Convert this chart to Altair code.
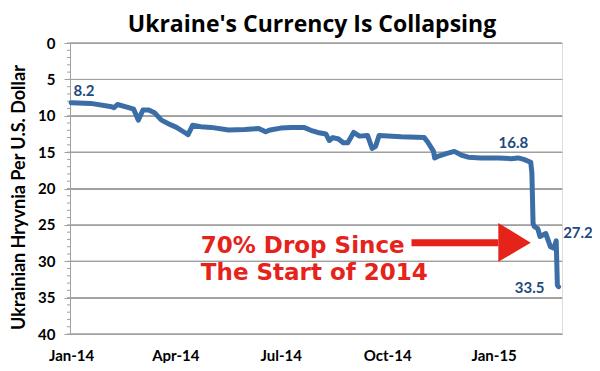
import altair as alt
import pandas as pd

# ---- data ----
dates = [
    "2014-01-01", "2014-01-18", "2014-02-05", "2014-02-07", "2014-02-10", "2014-02-19",
    "2014-02-24", "2014-02-28", "2014-03-04", "2014-03-09", "2014-03-14", "2014-03-20",
    "2014-03-26", "2014-04-02", "2014-04-08", "2014-04-12", "2014-04-16", "2014-04-23",
    "2014-05-02", "2014-05-17", "2014-05-31", "2014-06-12", "2014-06-18", "2014-06-22",
    "2014-07-01", "2014-07-10", "2014-07-21", "2014-07-27", "2014-08-02", "2014-08-09",
    "2014-08-12", "2014-08-15", "2014-08-20", "2014-08-24", "2014-08-28", "2014-09-02",
    "2014-09-07", "2014-09-14", "2014-09-18", "2014-09-21", "2014-09-24", "2014-10-13",
    "2014-11-02", "2014-11-05", "2014-11-10", "2014-11-11", "2014-11-15", "2014-11-21",
    "2014-11-28", "2014-12-04", "2014-12-10", "2014-12-21", "2015-01-05", "2015-01-16",
    "2015-01-22", "2015-01-27", "2015-02-02", "2015-02-03", "2015-02-04", "2015-02-05",
    "2015-02-08", "2015-02-10", "2015-02-15", "2015-02-17", "2015-02-19", "2015-02-22",
    "2015-02-23", "2015-02-24", "2015-02-25", "2015-02-26",
]
rates = [
    8.2, 8.3, 8.75, 8.9, 8.45, 8.85,
    9.1, 10.6, 9.2, 9.2, 9.6, 10.6,
    11.1, 11.6, 12.2, 12.6, 11.3, 11.5,
    11.6, 11.95, 11.9, 11.75, 12.2, 11.95,
    11.7, 11.6, 11.6, 12.0, 12.3, 12.5,
    13.4, 13.0, 13.2, 13.7, 13.7, 12.3,
    12.8, 12.7, 14.5, 14.2, 12.7, 12.9,
    13.0, 13.6, 14.9, 15.8, 15.5, 15.2,
    14.9, 15.4, 15.7, 15.8, 15.8, 15.9,
    15.8, 16.0, 16.4, 17.9, 24.8, 25.2,
    25.5, 26.6, 26.2, 27.1, 28.0, 28.2,
    27.7, 27.2, 33.3, 33.5,
]

# value labels (text, anchor date, anchor value)
left_labels = ["8.2", "27.2"]
left_label_dates = ["2014-01-03", "2015-03-02"]
left_label_vals = [6.66, 26.1]
center_labels = ["16.8", "33.5"]
center_label_dates = ["2015-01-18", "2015-02-01"]
center_label_vals = [13.7, 33.7]

# red annotation
note_lines = ["70% Drop Since", "The Start of 2014"]
note_dates = ["2014-04-23", "2014-04-23"]
note_vals = [28.9, 32.55]

arrow_start, arrow_head_base, arrow_tip = "2014-10-22", "2015-01-05", "2015-02-02"
arrow_level, head_top, head_bottom = 27.47, 24.73, 30.08

x_mid = "2014-07-31T12:00:00Z"
x_ticks = [(2014, 1), (2014, 4), (2014, 7), (2014, 10), (2015, 1)]
y_major = [0, 5, 10, 15, 20, 25, 30, 35, 40]
y_minor = list(range(0, 41))

TITLE = "Ukraine's Currency Is Collapsing"
Y_TITLE = "Ukrainian Hryvnia Per U.S. Dollar"

LINE_BLUE = "#3b6ea6"
LABEL_BLUE = "#1f497d"
RED = "#e5231b"
GRID = "#a0a0a0"
FONT = "Lato"
W, H = 492, 291

df = pd.DataFrame({"date": dates, "rate": rates})

xscale = alt.Scale(
    type="utc",
    domain=[alt.DateTime(year=2013, month=12, date=31, utc=True),
            alt.DateTime(year=2015, month=3, date=1, utc=True)],
)
yscale = alt.Scale(domain=[0, 40], reverse=True, nice=False, zero=False)

x_axis = alt.Axis(
    values=[alt.DateTime(year=y, month=m, date=1, utc=True) for y, m in x_ticks],
    labelExpr="utcFormat(datum.value, '%b-%y')",
    grid=False, ticks=False, domain=True, domainColor=GRID,
    labelFont=FONT, labelFontSize=15, labelFontWeight="bold", labelColor="black",
    labelPadding=14, labelOverlap=False, title=None,
)
y_axis = alt.Axis(
    values=y_major, grid=True, gridColor=GRID, gridWidth=1, gridOpacity=1,
    domainColor=GRID, tickColor=GRID, tickSize=6,
    labelFont=FONT, labelFontSize=15, labelFontWeight="bold", labelColor="black",
    labelPadding=9, labelOverlap=False,
    title=Y_TITLE, titleFont=FONT, titleFontSize=18, titleFontWeight="bold",
    titleColor="black", titleAngle=270, titleX=-51, titleY=154,
    titleAlign="center", titleBaseline="middle",
)


def X(field):
    return alt.X(field, scale=xscale, axis=x_axis)


def Y(field):
    return alt.Y(field, scale=yscale, axis=y_axis)


# horizontal gridlines: full-width rules, plus thin horizontal ticks as backup
grid_rule = alt.Chart(pd.DataFrame({"gv": y_major})).mark_rule(
    color=GRID, strokeWidth=1, opacity=1
).encode(y=Y("gv:Q"))

grid_tick = alt.Chart(pd.DataFrame({
    "gv": y_major, "gm": [x_mid] * len(y_major)
})).mark_tick(
    color=GRID, orient="horizontal", size=W, thickness=1, opacity=1, filled=True
).encode(x=X("gm:T"), y=Y("gv:Q"))

minor = alt.Chart(pd.DataFrame({"v": y_minor})).mark_rule(
    color=GRID, strokeWidth=1
).encode(x=alt.value(-3), x2=alt.value(0), y=Y("v:Q"))

line = alt.Chart(df).mark_line(
    color=LINE_BLUE, strokeWidth=5, strokeJoin="round", strokeCap="round"
).encode(x=X("date:T"), y=Y("rate:Q"))

lab_left = alt.Chart(pd.DataFrame({
    "t": left_labels, "d": left_label_dates, "v": left_label_vals
})).mark_text(
    align="left", baseline="middle", font=FONT, fontSize=15,
    fontWeight="bold", color=LABEL_BLUE
).encode(x=X("d:T"), y=Y("v:Q"), text="t:N")

lab_center = alt.Chart(pd.DataFrame({
    "t": center_labels, "d": center_label_dates, "v": center_label_vals
})).mark_text(
    align="center", baseline="middle", font=FONT, fontSize=15,
    fontWeight="bold", color=LABEL_BLUE
).encode(x=X("d:T"), y=Y("v:Q"), text="t:N")

note = alt.Chart(pd.DataFrame({
    "t": note_lines, "d": note_dates, "v": note_vals
})).mark_text(
    align="left", baseline="alphabetic", font="DejaVu Sans", fontSize=23,
    fontWeight="bold", color=RED
).encode(x=X("d:T"), y=Y("v:Q"), text="t:N")

shaft = alt.Chart(pd.DataFrame({
    "d1": [arrow_start], "d2": [arrow_head_base], "v": [arrow_level]
})).mark_rule(color=RED, strokeWidth=7).encode(
    x=X("d1:T"), x2="d2:T", y=Y("v:Q")
)

head = alt.Chart(pd.DataFrame({
    "d": [arrow_head_base, arrow_tip],
    "top": [head_top, arrow_level],
    "bot": [head_bottom, arrow_level],
})).mark_area(color=RED, opacity=1).encode(
    x=X("d:T"), y=Y("top:Q"), y2="bot:Q"
)

chart = alt.layer(
    grid_rule, grid_tick, minor, line, lab_left, lab_center, note, shaft, head
).properties(
    width=W, height=H,
    title=alt.TitleParams(TITLE, font="Open Sans", fontSize=23, fontWeight="bold",
                          color="black", anchor="middle", offset=-1, dx=-4),
    autosize=alt.AutoSizeParams(type="none"),
    padding={"left": 62, "top": 35, "right": 30, "bottom": 29},
).configure_view(strokeWidth=0).configure(background="white")

chart.save("out.html", embed_options={"renderer": "svg", "actions": False})
